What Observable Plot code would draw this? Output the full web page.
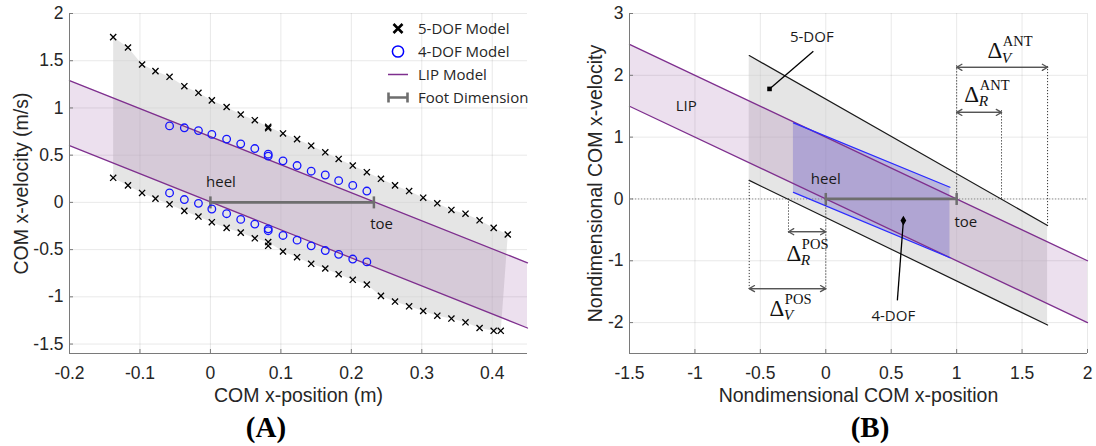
<!DOCTYPE html>
<html><head><meta charset="utf-8">
<script src="https://cdn.jsdelivr.net/npm/d3@7"></script>
<script src="https://cdn.jsdelivr.net/npm/@observablehq/plot@0.6"></script>
<style>
body{margin:0;background:#fff;}
#wrap{position:relative;width:1096px;height:446px;overflow:hidden;background:#fff;}
#pa,#pb{position:absolute;top:0;}
#pa{left:0}#pb{left:548px}
g[aria-label="x-axis label"], g[aria-label="y-axis label"]{font-size:19.5px;}
.cap{position:absolute;top:411px;width:100px;height:34px;line-height:34px;text-align:center;font:bold 29px "Liberation Serif","Times New Roman",serif;color:#000;}
#legend{position:absolute;left:386px;top:16.5px;font:15px "Open Sans",sans-serif;color:#262626;}
#legend .row{height:23px;display:flex;align-items:center;white-space:nowrap;}
#legend svg{width:24px;height:23px;margin-right:8px;flex:none;}
</style></head><body>
<div id="wrap">
  <div id="pa"></div><div id="pb"></div>
  <div id="legend">
    <div class="row"><svg viewBox="0 0 24 23"><path d="M7.5,7 L16.5,16 M16.5,7 L7.5,16" stroke="#000" stroke-width="2.6" fill="none"/></svg><span>5-DOF Model</span></div>
    <div class="row"><svg viewBox="0 0 24 23"><circle cx="12" cy="11.5" r="5.6" stroke="#0000ff" stroke-width="1.5" fill="none"/></svg><span>4-DOF Model</span></div>
    <div class="row"><svg viewBox="0 0 24 23"><path d="M2,11.5 L22,11.5" stroke="#7E2F8E" stroke-width="1.5"/></svg><span>LIP Model</span></div>
    <div class="row"><svg viewBox="0 0 24 23"><path d="M2,11.5 L22,11.5 M2.5,6.5 L2.5,16.5 M21.5,6.5 L21.5,16.5" stroke="#6e6e6e" stroke-width="2.6"/></svg><span>Foot Dimension</span></div>
  </div>
  <div class="cap" style="left:216px">(A)</div>
  <div class="cap" style="left:820px">(B)</div>
</div>
<script>
// ---------- Panel A data ----------
const xTicksA = [-0.2, -0.1, 0, 0.1, 0.2, 0.3, 0.4];
const yTicksA = [-1.5, -1, -0.5, 0, 0.5, 1, 1.5, 2];
const xDomA = [-0.2, 0.45];
const yDomA = [-1.6, 2];

const xA5Up = [-0.138,-0.117,-0.097,-0.078,-0.058,-0.037,-0.017,0.002,0.023,0.043,0.063,0.082,0.103,0.123,0.143,0.163,0.182,0.202,0.222,0.242,0.262,0.282,0.302,0.322,0.342,0.362,0.382,0.402,0.422];
const yA5Up = [1.75,1.64,1.46,1.39,1.33,1.23,1.16,1.08,1.01,0.93,0.87,0.80,0.73,0.67,0.60,0.53,0.46,0.39,0.32,0.25,0.18,0.12,0.05,-0.01,-0.08,-0.12,-0.19,-0.27,-0.34];
const xA5Lo = [-0.138,-0.117,-0.097,-0.078,-0.058,-0.037,-0.017,0.002,0.023,0.043,0.063,0.082,0.103,0.123,0.143,0.163,0.182,0.202,0.222,0.242,0.262,0.282,0.302,0.322,0.342,0.362,0.382,0.402,0.412];
const yA5Lo = [0.26,0.18,0.10,0.04,-0.02,-0.09,-0.15,-0.21,-0.27,-0.32,-0.38,-0.42,-0.52,-0.58,-0.65,-0.70,-0.76,-0.82,-0.87,-0.99,-1.05,-1.10,-1.15,-1.20,-1.23,-1.27,-1.33,-1.36,-1.36];
const xA4 = [-0.058,-0.037,-0.017,0.002,0.023,0.043,0.063,0.082,0.103,0.123,0.143,0.163,0.182,0.202,0.222];
const yA4Up = [0.81,0.79,0.76,0.72,0.67,0.62,0.57,0.51,0.44,0.39,0.33,0.29,0.23,0.18,0.12];
const yA4Lo = [0.10,0.03,-0.01,-0.07,-0.12,-0.18,-0.23,-0.28,-0.35,-0.40,-0.46,-0.51,-0.55,-0.60,-0.63];
const xDupA = [0.082, 0.082];
const yDup5A = [0.785, -0.46];
const yDup4A = [0.49, -0.30];

const lipAX = [-0.2, 0.45];
const lipAUp = [1.29, -0.64];
const lipALo = [0.60, -1.33];
const footAX = [0, 0.232];
const footAY = [0, 0];
const labelsA = ["heel", "toe"];
const labelAX = [0.015, 0.243];
const labelAY = [0.215, -0.23];

// ---------- Panel B data ----------
const xTicksB = [-1.5, -1, -0.5, 0, 0.5, 1, 1.5, 2];
const yTicksB = [-2, -1, 0, 1, 2, 3];
const xDomB = [-1.5, 2];
const yDomB = [-2.5, 3];

const lipBX = [-1.5, 2];
const lipBUp = [2.5, -1];
const lipBLo = [1.5, -2];
const dof5BX = [-0.585, 1.695];
const dof5BUp = [2.32, -0.43];
const dof5BLo = [0.30, -2.04];
const dof4BX = [-0.247, 0.949];
const dof4BUp = [1.23, 0.19];
const dof4BLo = [0.107, -0.95];
const footBX = [0, 1];
const footBY = [0, 0];
const labelsB = ["heel", "toe", "LIP", "5-DOF", "4-DOF"];
const labelBX = [0.0, 1.07, -1.066, -0.107, 0.516];
const labelBY = [0.325, -0.38, 1.50, 2.62, -1.89];
const leaderX1 = [-0.095, 0.547];
const leaderY1 = [2.39, -1.64];
const leaderX2 = [-0.43, 0.593];
const leaderY2 = [1.78, -0.35];
// dotted guide lines
const guideX = [1, 1.695, 1.343, -0.285, 0, -0.585];
const guideY1 = [0, -0.40, 0, 0, 0, 0.30];
const guideY2 = [2.16, 2.16, 1.43, -0.57, -1.48, -1.48];
// double arrows
const arrX1 = [1, 1, -0.285, -0.585];
const arrX2 = [1.695, 1.343, 0, 0];
const arrY = [2.13, 1.40, -0.53, -1.45];
// delta labels
const deltaX = [1.292, 1.115, -0.244, -0.374];
const deltaY = [2.40, 1.69, -0.88, -1.77];
const deltaSup = ["ANT", "ANT", "POS", "POS"];
const deltaSub = ["V", "R", "R", "V"];

// ---------- helpers ----------
const purple = "#7E2F8E";
const footGray = "#6e6e6e";
const axisGray = "#7a7a7a";
const txt = "#262626";
const fmt = d => String(d);
const vbar = {draw(ctx, size) { const h = Math.sqrt(size / Math.PI); ctx.moveTo(0, -h); ctx.lineTo(0, h); }};
const pts = (xs, ys) => xs.map((x, i) => ({x, y: ys[i]}));
const band = (xs, lo, hi) => xs.map((x, i) => ({x, lo: lo[i], hi: hi[i]}));
const gridOpts = {stroke: "#262626", strokeOpacity: 0.1, strokeWidth: 1};
const styleOpts = {fontFamily: "'Liberation Sans', Arial, sans-serif", fontSize: "17.5px", color: txt, background: "transparent", overflow: "visible"};
const annoFont = {fontFamily: "'Open Sans', sans-serif", fontSize: 15, fill: "#1a1a1a"};

// ---------- Panel A ----------
const polyA = [...pts(xA5Up, yA5Up), ...pts(xA5Lo, yA5Lo).reverse()];
const lipA = band(lipAX, lipALo, lipAUp);
const footA = pts(footAX, footAY);

const plotA = Plot.plot({
  width: 548, height: 420,
  marginLeft: 69, marginRight: 21, marginTop: 13, marginBottom: 67,
  style: styleOpts,
  x: {domain: xDomA},
  y: {domain: yDomA},
  marks: [
    Plot.gridX(xTicksA, gridOpts),
    Plot.gridY(yTicksA, gridOpts),
    Plot.line(polyA, {x: "x", y: "y", fill: "#cccccc", fillOpacity: 0.5, stroke: "none"}),
    Plot.areaY(lipA, {x: "x", y1: "lo", y2: "hi", fill: purple, fillOpacity: 0.15}),
    Plot.line(lipA, {x: "x", y: "hi", stroke: purple, strokeWidth: 1.3}),
    Plot.line(lipA, {x: "x", y: "lo", stroke: purple, strokeWidth: 1.3}),
    Plot.line(footA, {x: "x", y: "y", stroke: footGray, strokeWidth: 2.7}),
    Plot.dot(footA, {x: "x", y: "y", symbol: vbar, r: 6, stroke: footGray, strokeWidth: 2.5}),
    Plot.dot(pts(xA5Up, yA5Up), {x: "x", y: "y", symbol: "times", r: 2.9, stroke: "#000", strokeWidth: 1.3}),
    Plot.dot(pts(xA5Lo, yA5Lo), {x: "x", y: "y", symbol: "times", r: 2.9, stroke: "#000", strokeWidth: 1.3}),
    Plot.dot(pts(xDupA, yDup5A), {x: "x", y: "y", symbol: "times", r: 2.9, stroke: "#000", strokeWidth: 1.3}),
    Plot.dot(pts(xA4, yA4Up), {x: "x", y: "y", r: 3.8, stroke: "#1515ff", strokeWidth: 1.3, fill: "none"}),
    Plot.dot(pts(xA4, yA4Lo), {x: "x", y: "y", r: 3.8, stroke: "#1515ff", strokeWidth: 1.3, fill: "none"}),
    Plot.dot(pts(xDupA, yDup4A), {x: "x", y: "y", r: 3.8, stroke: "#1515ff", strokeWidth: 1.3, fill: "none"}),
    Plot.text(labelsA, {x: (d, i) => labelAX[i], y: (d, i) => labelAY[i], text: d => d, ...annoFont}),
    Plot.ruleX([xDomA[0]], {stroke: axisGray, strokeWidth: 1}),
    Plot.ruleY([yDomA[0]], {stroke: axisGray, strokeWidth: 1}),
    Plot.axisX(xTicksA, {tickFormat: fmt, tickSize: -4, tickPadding: 17, stroke: axisGray, fill: txt,
      label: "COM x-position (m)", labelAnchor: "center", labelOffset: 48, labelArrow: false}),
    Plot.axisY(yTicksA, {tickFormat: fmt, tickSize: -4, tickPadding: 10, stroke: axisGray, fill: txt,
      label: "COM x-velocity (m/s)", labelAnchor: "center", labelOffset: 55.5, labelArrow: false})
  ]
});
document.getElementById("pa").append(plotA);

// ---------- Panel B ----------
const lipB = band(lipBX, lipBLo, lipBUp);
const dof5B = band(dof5BX, dof5BLo, dof5BUp);
const dof4B = band(dof4BX, dof4BLo, dof4BUp);
const footB = pts(footBX, footBY);
const guides = guideX.map((x, i) => ({x, y1: guideY1[i], y2: guideY2[i]}));
const arrows = arrX1.map((x1, i) => ({x1, x2: arrX2[i], y: arrY[i]}));
const deltas = deltaX.map((x, i) => ({x, y: deltaY[i], sup: deltaSup[i], sub: deltaSub[i]}));
const leaders = leaderX1.map((x1, i) => ({x1, y1: leaderY1[i], x2: leaderX2[i], y2: leaderY2[i]}));
const serif = "'Liberation Serif', 'Times New Roman', serif";
const dotted = {stroke: "#333", strokeWidth: 1, strokeDasharray: "1.2,1.8"};

const plotB = Plot.plot({
  width: 548, height: 420,
  marginLeft: 81, marginRight: 9, marginTop: 13, marginBottom: 67,
  style: styleOpts,
  x: {domain: xDomB},
  y: {domain: yDomB},
  marks: [
    Plot.gridX(xTicksB, gridOpts),
    Plot.gridY(yTicksB, gridOpts),
    Plot.areaY(dof5B, {x: "x", y1: "lo", y2: "hi", fill: "#cccccc", fillOpacity: 0.5}),
    Plot.areaY(lipB, {x: "x", y1: "lo", y2: "hi", fill: purple, fillOpacity: 0.15}),
    Plot.areaY(dof4B, {x: "x", y1: "lo", y2: "hi", fill: "#5b50c8", fillOpacity: 0.3}),
    Plot.ruleY([0], {stroke: "#777", strokeWidth: 0.8, strokeDasharray: "1.2,1.8"}),
    Plot.line(lipB, {x: "x", y: "hi", stroke: purple, strokeWidth: 1.3}),
    Plot.line(lipB, {x: "x", y: "lo", stroke: purple, strokeWidth: 1.3}),
    Plot.line(dof5B, {x: "x", y: "hi", stroke: "#1a1a1a", strokeWidth: 1.2}),
    Plot.line(dof5B, {x: "x", y: "lo", stroke: "#1a1a1a", strokeWidth: 1.2}),
    Plot.line(dof4B, {x: "x", y: "hi", stroke: "#2b2bff", strokeWidth: 1.2}),
    Plot.line(dof4B, {x: "x", y: "lo", stroke: "#2b2bff", strokeWidth: 1.2}),
    Plot.ruleX(guides, {x: "x", y1: "y1", y2: "y2", ...dotted}),
    Plot.arrow(arrows, {x1: "x1", x2: "x2", y1: "y", y2: "y", stroke: "#555", strokeWidth: 1.3, headLength: 7, bend: 0}),
    Plot.arrow(arrows, {x1: "x2", x2: "x1", y1: "y", y2: "y", stroke: "#555", strokeWidth: 1.3, headLength: 7, bend: 0}),
    Plot.line(footB, {x: "x", y: "y", stroke: footGray, strokeWidth: 2.7}),
    Plot.dot(footB, {x: "x", y: "y", symbol: vbar, r: 6, stroke: footGray, strokeWidth: 2.5}),
    Plot.link(leaders, {x1: "x1", y1: "y1", x2: "x2", y2: "y2", stroke: "#000", strokeWidth: 1.3}),
    Plot.dot(leaders.slice(0, 1), {x: "x2", y: "y2", symbol: "square", r: 2.6, fill: "#000"}),
    Plot.dot(leaders.slice(1, 2), {x: "x2", y: "y2", symbol: "diamond", r: 3, fill: "#000"}),
    Plot.text(labelsB, {x: (d, i) => labelBX[i], y: (d, i) => labelBY[i], text: d => d, ...annoFont}),
    Plot.text(deltas, {x: "x", y: "y", text: () => "Δ", fontFamily: serif, fontSize: 23, fill: "#111"}),
    Plot.text(deltas, {x: "x", y: "y", text: "sup", fontFamily: serif, fontSize: 14.5, fill: "#111", textAnchor: "start", dx: 8, dy: -9}),
    Plot.text(deltas, {x: "x", y: "y", text: "sub", fontFamily: serif, fontSize: 15.5, fontStyle: "italic", fill: "#111", textAnchor: "start", dx: 7, dy: 7}),
    Plot.ruleX([xDomB[0]], {stroke: axisGray, strokeWidth: 1}),
    Plot.ruleY([yDomB[0]], {stroke: axisGray, strokeWidth: 1}),
    Plot.axisX(xTicksB, {tickFormat: fmt, tickSize: -4, tickPadding: 17, stroke: axisGray, fill: txt,
      label: "Nondimensional COM x-position", labelAnchor: "center", labelOffset: 48, labelArrow: false}),
    Plot.axisY(yTicksB, {tickFormat: fmt, tickSize: -4, tickPadding: 10, stroke: axisGray, fill: txt,
      label: "Nondimensional COM x-velocity", labelAnchor: "center", labelOffset: 41, labelArrow: false})
  ]
});
document.getElementById("pb").append(plotB);
</script>
</body></html>
